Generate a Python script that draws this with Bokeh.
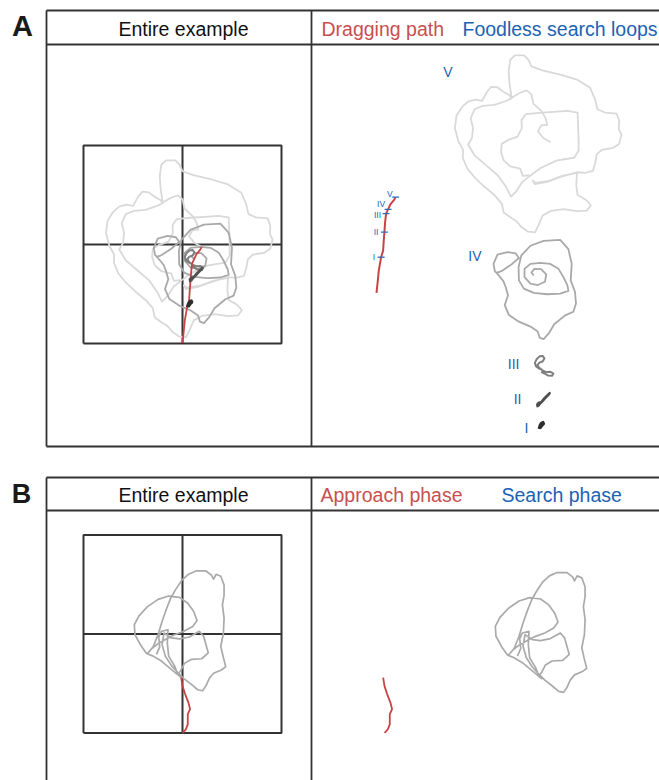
import numpy as np
from bokeh.plotting import figure
from bokeh.models import Range1d
from bokeh.embed import file_html
from bokeh.resources import INLINE
from bokeh.core.properties import value

# ---------------- data (mm; nest at origin, x east, y north) ----------------
ARENA_HALF_MM = 300

# Panel A: dragging path with the points where foodless search loops start
drag_x = [0, 4, 7, 14, 20, 22, 24, 26, 29, 35, 42, 52, 58]
drag_y = [-298, -261, -230, -190, -170, -139, -114, -85, -58, -45, -30, -18, -8]
loop_names = ["I", "II", "III", "IV", "V"]
loop_start_index = [3, 6, 8, 9, 12]

# loops, relative to their start point on the dragging path (mm)
loop1_x = [0, 3, 7, 13, 15, 10, 5, 3, 8, 12]
loop1_y = [0, 10, 17, 20, 15, 10, 3, 8, 14, 16]

loop2_x = [0, -2, 3, 10, 18, 28, 36, 33, 23, 13, 6, 2]
loop2_y = [0, 8, 14, 15, 25, 35, 43, 38, 28, 17, 10, 4]

loop3_x = [0, -10, -19, -22, -17, -8, 2, 7, 2, -8, -14, -9, 1, 13, 25, 34, 30, 17, 7, -3]
loop3_y = [0, 3, 10, 20, 31, 40, 41, 34, 25, 21, 14, 5, -3, -8, -7, -12, -19, -18, -12, -7]

loop4_x = [0, -7, 2, 22, 38, 34, 12, -10, -28, -28, -10, 20, 50, 75, 90, 102, 105, 80, 40, 0,
           -30, -45, -46, -38, -10, 30, 80, 105, 115, 112, 125, 128, 120, 95, 62, 46, 30, 18, 12, -10,
           -45, -75, -88, -78, -85, -92, -110, -118, -122, -110, -80, -55, -45, -68, -98, -115]
loop4_y = [0, 9, 20, 19, 3, -19, -29, -25, -5, 20, 35, 38, 35, 20, -5, -30, -47, -55, -57, -53,
           -40, -15, 25, 60, 90, 105, 108, 80, 35, -15, -50, -85, -110, -121, -148, -175, -193, -189, -170, -155,
           -140, -120, -90, -60, -35, -17, 5, 13, 35, 63, 71, 67, 53, 33, 13, 7]

loop5_x = [0, -22, -38, -28, -10, -15, -28, -52, -58, -72,
           -92, -118, -124, -127, -122, -108, -80, -67, -58, -25,
           30, 80, 120, 135, 142, 165, 200, 208, 207, 215,
           208, 190, 155, 140, 135, 128, 105, 80, 30, -10,
           -48, -54, -46, -5, 35, 80, 78, 82, 108, 122,
           110, 80, 40, 2, -24, -35, -47, -68, -88, -103,
           -125, -142, -148, -170, -200, -230, -252, -266, -265, -280,
           -290, -285, -268, -250, -228, -208, -192, -180, -160, -143,
           -125, -118, -135, -170, -205, -230, -242, -235, -238, -250,
           -230, -195, -160, -135, -120, -105, -85, -60, -30, 20,
           72, 85, 85, 82, 50, 10, -35, -75, -88, -87,
           -100, -128, -148, -150, -142, -122, -92, -84, -65]
loop5_y = [0, 13, 33, 51, 53, 73, 95, 117, 145, 157,
           150, 135, 175, 215, 250, 263, 263, 250, 230, 218,
           205, 190, 165, 130, 100, 90, 87, 65, 40, 23,
           -5, -17, -23, -37, -65, -87, -93, -91, -105, -120,
           -127, -116, -123, -117, -102, -93, -130, -160, -175, -191,
           -207, -209, -203, -208, -222, -248, -273, -271, -257, -240,
           -225, -213, -185, -160, -135, -107, -80, -47, -23, 5,
           43, 80, 107, 123, 129, 125, 153, 168, 166, 153,
           143, 133, 125, 113, 110, 100, 73, 43, 13, -7,
           -40, -70, -100, -135, -165, -150, -120, -100, -78, -55,
           -47, -25, 5, 90, 95, 92, 89, 85, 67, 43,
           17, 7, -5, -30, -55, -73, -80, -102, -100]

loops_x = [loop1_x, loop2_x, loop3_x, loop4_x, loop5_x]
loops_y = [loop1_y, loop2_y, loop3_y, loop4_y, loop5_y]

# Panel B: approach phase (mm) and search phase (relative to approach end, mm)
approach_x = [0, 10, 16, 16, 23, 18, 8, 0, -4]
approach_y = [-300, -289, -274, -243, -228, -208, -182, -158, -132]

search_x = [0, -30, -60, -85, -105, -122, -140, -142, -128, -102, -70, -38, -5, 20, 38, 48, 35, 8, -22, -45,
            -70, -90, -102, -85, -70, -58, -45, -32, -18, 2, 22, 45, 75, 92, 98, 106, 120, 130, 130,
            125, 130, 128, 120, 128, 135, 122, 98, 85, 75, 65, 50, 30, 8, -10, -30, -48, -58, -52, -30,
            -5, 25, 55, 68, 75, 82, 62, 30, 10, -2, -10, -20, -38, -42, -40, -60, -68, -65, -75]
search_y = [0, 25, 50, 65, 73, 97, 130, 160, 187, 215, 237, 247, 243, 225, 200, 173, 155, 140, 129, 117,
            103, 87, 73, 93, 130, 170, 207, 240, 265, 295, 313, 323, 323, 310, 298, 313, 307, 280, 250,
            220, 180, 135, 95, 60, 33, 23, 13, -3, -25, -40, -37, -20, -3, 15, 37, 65, 100, 135, 120,
            117, 123, 140, 125, 100, 75, 57, 55, 43, 20, 10, 35, 65, 105, 145, 140, 123, 93, 70]

# ---------------- layout & style ----------------
W, H = 659, 780
X0, Y0 = 0, 0
FONT = "Liberation Sans"
RED_TXT = "#c94f4f"
BLUE_TXT = "#1b63b5"
RED_LINE = "#c84444"
BLUE_TICK = "#2a6cc0"
FRAME = "#333333"
LOOP_COLORS = ["#2e2e2e", "#4f4f4f", "#7f7f7f", "#a9a9a9", "#d9d9d9"]
LOOP_WIDTHS = [2.6, 2.4, 2.0, 1.8, 1.8]
SEARCH_COLOR = "#aaaaaa"
SCALE = 0.33  # px per mm
HEAD_SIZE = "19.5px"

A_BOX = dict(left=46, top=10, bottom=446, right=700, header=44, divider=311)
B_BOX = dict(left=46, top=477, bottom=800, right=700, header=510, divider=311)
A_CENTER = (182, 244)
B_CENTER = (182, 633.5)
A_HEAD_Y = 28
B_HEAD_Y = 494
A_DRAG_SHIFT = (194, -50)
A_LOOP_SHIFT = [(351.7, 121.6), (347.4, 125.1), (350.1, 105.9), (339.7, 16.1), (348.9, -104.9)]
B_APPROACH_SHIFT = (202, 0)
B_SEARCH_SHIFT = (361, 1.6)
LOOP_LABEL_POS = [(528, 427), (521, 398), (519, 363), (481, 255), (452, 71)]
TICK_LABEL_DX = [-6, -6, -5, -3, -3]
TICK_LABEL_DY = [0, 0, 1, -5, -3]

p = figure(width=W, height=H, x_range=Range1d(X0, X0 + W), y_range=Range1d(Y0 + H, Y0),
           output_backend="svg", toolbar_location=None, min_border=0,
           x_axis_type=None, y_axis_type=None, outline_line_color=None,
           background_fill_color="white", border_fill_color="white")
p.grid.visible = False


def to_px(xs, ys, center, shift=(0, 0)):
    cx, cy = center
    return ([cx + shift[0] + SCALE * x for x in xs], [cy + shift[1] - SCALE * y for y in ys])


def draw_box(b):
    xs = [[b["left"], b["right"]], [b["left"], b["right"]], [b["left"], b["left"]],
          [b["divider"], b["divider"]], [b["left"], b["right"]]]
    ys = [[b["top"], b["top"]], [b["header"], b["header"]], [b["top"], b["bottom"]],
          [b["top"], b["bottom"]], [b["bottom"], b["bottom"]]]
    p.multi_line(xs, ys, line_color=FRAME, line_width=1.8)


def draw_arena(center):
    h = ARENA_HALF_MM
    sx, sy = to_px([-h, h, h, -h, -h], [-h, -h, h, h, -h], center)
    p.line(sx, sy, line_color=FRAME, line_width=2)
    cx, cy = to_px([-h, h, 0, 0], [0, 0, -h, h], center)
    p.multi_line([cx[:2], cx[2:]], [cy[:2], cy[2:]], line_color=FRAME, line_width=2)


def label(x, y, txt, color, size, align="left", style="normal"):
    p.text(x=[x], y=[y], text=[txt], text_color=color, text_font=value(FONT),
           text_font_size=value(size), text_font_style=style,
           text_align=align, text_baseline="middle")


# ---- frames ----
draw_box(A_BOX)
draw_box(B_BOX)
draw_arena(A_CENTER)
draw_arena(B_CENTER)

label(22, 25, "A", "#1a1a1a", "29px", "center", "bold")
label(21, 493, "B", "#1a1a1a", "27px", "center", "bold")

label(183, A_HEAD_Y, "Entire example", "#111111", HEAD_SIZE, "center")
label(321, A_HEAD_Y, "Dragging path", RED_TXT, HEAD_SIZE)
label(462, A_HEAD_Y, "Foodless search loops", BLUE_TXT, HEAD_SIZE)
label(183, B_HEAD_Y, "Entire example", "#111111", HEAD_SIZE, "center")
label(320, B_HEAD_Y, "Approach phase", RED_TXT, HEAD_SIZE)
label(501, B_HEAD_Y, "Search phase", BLUE_TXT, HEAD_SIZE)

# ---- panel A: loops in arena frame ----
loops_arena = []
for k in range(5):
    ax0 = drag_x[loop_start_index[k]]
    ay0 = drag_y[loop_start_index[k]]
    loops_arena.append(([ax0 + v for v in loops_x[k]], [ay0 + v for v in loops_y[k]]))

# left: entire example (all overlaid)
for k in [4, 3, 2]:
    lx, ly = to_px(*loops_arena[k], A_CENTER)
    p.line(lx, ly, line_color=LOOP_COLORS[k], line_width=LOOP_WIDTHS[k], line_join="round")
dx, dy = to_px(drag_x, drag_y, A_CENTER)
p.line(dx, dy, line_color=RED_LINE, line_width=1.8)
for k in [1, 0]:
    lx, ly = to_px(*loops_arena[k], A_CENTER)
    p.line(lx, ly, line_color=LOOP_COLORS[k], line_width=LOOP_WIDTHS[k], line_join="round")

# right: separated components
for k in [4, 3, 2, 1, 0]:
    lx, ly = to_px(*loops_arena[k], A_CENTER, A_LOOP_SHIFT[k])
    p.line(lx, ly, line_color=LOOP_COLORS[k], line_width=LOOP_WIDTHS[k], line_join="round")
    label(LOOP_LABEL_POS[k][0], LOOP_LABEL_POS[k][1], loop_names[k], BLUE_TXT, "14px", "right")

rdx, rdy = to_px(drag_x, drag_y, A_CENTER, A_DRAG_SHIFT)
p.line(rdx, rdy, line_color=RED_LINE, line_width=2)
tx = [rdx[i] for i in loop_start_index]
ty = [rdy[i] for i in loop_start_index]
p.segment(x0=[x - 3.5 for x in tx], y0=ty, x1=[x + 3.5 for x in tx], y1=ty,
          line_color=BLUE_TICK, line_width=1.3)
p.text(x=[x + d for x, d in zip(tx, TICK_LABEL_DX)], y=[y + d for y, d in zip(ty, TICK_LABEL_DY)],
       text=loop_names, text_color=BLUE_TXT, text_font=value(FONT), text_font_size=value("8.5px"),
       text_align="right", text_baseline="middle")

# ---- panel B ----
sx_arena = [approach_x[-1] + v for v in search_x]
sy_arena = [approach_y[-1] + v for v in search_y]

lx, ly = to_px(sx_arena, sy_arena, B_CENTER)
p.line(lx, ly, line_color=SEARCH_COLOR, line_width=1.7, line_join="round")
ax_, ay_ = to_px(approach_x, approach_y, B_CENTER)
p.line(ax_, ay_, line_color=RED_LINE, line_width=1.8)

lx, ly = to_px(sx_arena, sy_arena, B_CENTER, B_SEARCH_SHIFT)
p.line(lx, ly, line_color=SEARCH_COLOR, line_width=1.7, line_join="round")
ax_, ay_ = to_px(approach_x, approach_y, B_CENTER, B_APPROACH_SHIFT)
p.line(ax_, ay_, line_color=RED_LINE, line_width=1.8)

open("out.html", "w").write(file_html(p, INLINE))
